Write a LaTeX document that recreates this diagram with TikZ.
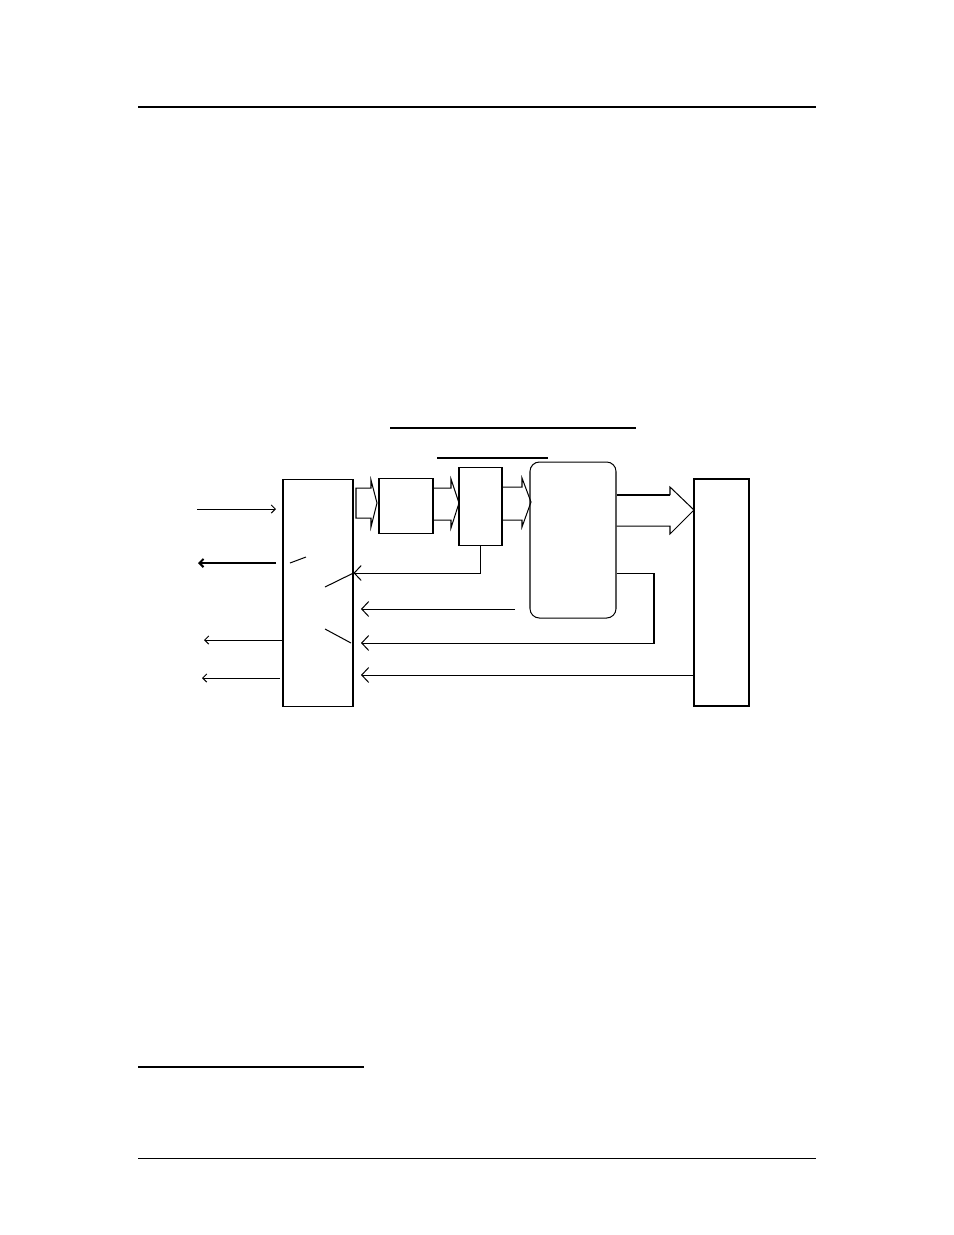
\documentclass[tikz,border=0pt]{standalone}
\usepackage{tikz}
\usetikzlibrary{arrows.meta}

\begin{document}
\begin{tikzpicture}[x=0.6415pt,y=-0.6415pt,
  sz/.style 2 args={minimum width=#1*0.6415pt,minimum height=#2*0.6415pt},
  box/.style={draw,line width=0.65pt,inner sep=0pt},
  wire/.style={line width=0.65pt},
  sig/.style={wire,-{Straight Barb[length=4.5pt,width=9.6pt]}},
  sigl/.style={wire,-{Straight Barb[length=2.6pt,width=5.2pt]}},
  hollow/.style={draw,line width=0.65pt,line join=miter}]
\useasboundingbox (0,0) rectangle (954,1235);

% page rules
\draw[line width=1.3pt] (138,107) -- (816,107);
\draw[line width=0.8pt] (138,1067) -- (364,1067);
\draw[line width=0.65pt] (138,1158) -- (816,1158);

% underlines above the picture
\draw[line width=1.3pt] (390,428) -- (636,428);
\draw[line width=1.3pt] (437,458) -- (548,458);

% blocks
\node[box,sz={70}{227}] (A) at (318,592.5) {};
\node[box,sz={54}{55}] (B) at (406,505.5) {};
\node[box,sz={43}{78}] (C) at (480.5,506) {};
\node[box,sz={86}{156},rounded corners=6pt] (D) at (573,540) {};
\node[box,sz={55}{227},line width=1.3pt] (E) at (721.5,592.5) {};

% hollow arrows
\draw[hollow] (356,488) -- (371,488) -- (371,480) -- (377,503) -- (371,527) -- (371,518) -- (356,518) -- cycle;
\draw[hollow] (B.east |- 0,488) -- (451,488) -- (451,479) -- (459,503) -- (451,528) -- (451,520) -- (B.east |- 0,520);
\draw[hollow] (C.east |- 0,487) -- (522,487) -- (522,478) -- (531,502) -- (522,527) -- (522,520) -- (C.east |- 0,520);
\draw[hollow] (D.east |- 0,526) -- (670,526) -- (670,534) -- (694,510) -- (670,487) -- (670,495);
\draw[line width=1.3pt] (670,495) -- (D.east |- 0,495);

% left side signals
\coordinate (in1) at (197,509);
\coordinate (in1e) at (276,509);
\coordinate (out2) at (276,563);
\coordinate (out2e) at (198,563);
\coordinate (out3e) at (204,640);
\coordinate (out4) at (280,678);
\coordinate (out4e) at (202,678);
\draw[sigl] (in1) -- (in1e);
\draw[sigl,line width=1.3pt] (out2) -- (out2e);
\draw[sigl] (A.west |- out3e) -- (out3e);
\draw[sigl] (out4) -- (out4e);

% switches inside A
\draw[wire] (290,563) -- (306,557);
\draw[wire] (325,587) -- (A.east |- 0,573);
\draw[wire] (325,629) -- (351,643);

% feedback into A
\coordinate (pa) at (A.east |- 0,573);
\coordinate (pb) at (361,609);
\coordinate (pc) at (361,643);
\coordinate (pd) at (361,675);
\coordinate (fb) at (515,609);
\draw[sig] (C.south) |- (pa);
\draw[sig] (fb) -- (pb);
\draw[sig] (D.east |- 0,573) -- (654,573) |- (pc);
\draw[sig] (E.west |- pd) -- (pd);
\end{tikzpicture}
\end{document}
